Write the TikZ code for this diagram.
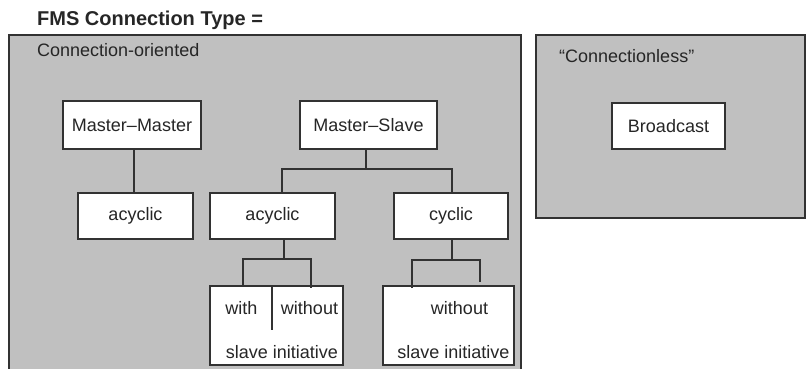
\documentclass[tikz,border=0pt]{standalone}
\usepackage{fontspec}
\setmainfont{Liberation Sans}
\usetikzlibrary{positioning}
\definecolor{panelgray}{RGB}{192,192,192}
\definecolor{linegray}{RGB}{50,50,50}
\tikzset{
  every node/.style={text=black!85, font=\fontsize{18}{20}\selectfont},
  panel/.style={draw=linegray, fill=panelgray, line width=1.4pt},
  box/.style={draw=linegray, fill=white, line width=1.4pt, inner sep=0pt},
  wire/.style={draw=linegray, line width=1.4pt},
  tag/.style={anchor=west, inner sep=0pt}
}

\begin{document}
\begin{tikzpicture}[x=1pt,y=-1pt]
\useasboundingbox (0,0) rectangle (808,368);

\node[tag, font=\bfseries\fontsize{20}{22}\selectfont] (title) at (37,20) {FMS Connection Type =};
\draw[panel] (9,380) -- (9,35) -- (521,35) -- (521,380);
\node[panel, minimum width=269pt, minimum height=183pt, inner sep=0pt] (cl) at (670.5,126.5) {};
\node[tag] (co) at (37,50) {Connection-oriented};
\node[tag] (clt) at (559,56) {``Connectionless''};

\node[box, minimum width=138pt, minimum height=48pt] (mm) at (132,125) {Master--Master};
\node[box, minimum width=115pt, minimum height=46pt] (acl) at (135.5,216) {acyclic};
\node[box, minimum width=137pt, minimum height=48pt] (ms) at (368.5,125) {Master--Slave};
\node[box, minimum width=125pt, minimum height=46pt] (acm) at (272.5,216) {acyclic};
\node[box, minimum width=114pt, minimum height=46pt] (cyc) at (451,216) {cyclic};
\node[box, minimum width=113pt, minimum height=46pt] (bc) at (668.5,126) {Broadcast};
\node[box, minimum width=133pt, minimum height=79pt] (ww) at (276.5,325.5) {};
\node[box, minimum width=131pt, minimum height=79pt] (wo) at (448.5,325.5) {};

\node (with) at (241.5,308) {with};
\node (wout) at (309.5,308) {without};
\node (si) at (282,352) {slave initiative};
\node (wout2) at (459.5,308) {without};
\node (si2) at (453.5,352) {slave initiative};

\coordinate (msl) at (282,169);
\coordinate (msr) at (452,169);
\coordinate (am) at (284,259);
\coordinate (al) at (243,259);
\coordinate (ar) at (311,259);
\coordinate (cm) at (452,260);
\coordinate (cl1) at (412,260);
\coordinate (cr1) at (480,260);
\coordinate (div) at (272,330);

\draw[wire] (mm.south -| 134,0) -- (acl.north -| 134,0);
\draw[wire] (ms.south -| 366,0) -- (366,169);
\draw[wire] (msl |- acm.north) -- (msl) -- (msr) -- (msr |- cyc.north);
\draw[wire] (am |- acm.south) -- (am);
\draw[wire] (al |- ww.north) -- (al) -- (ar) -- (311,288);
\draw[wire] (div |- ww.north) -- (div);
\draw[wire] (cm |- cyc.south) -- (cm);
\draw[wire] (412,288) -- (cl1) -- (cr1) -- (480,282);
\end{tikzpicture}
\end{document}
